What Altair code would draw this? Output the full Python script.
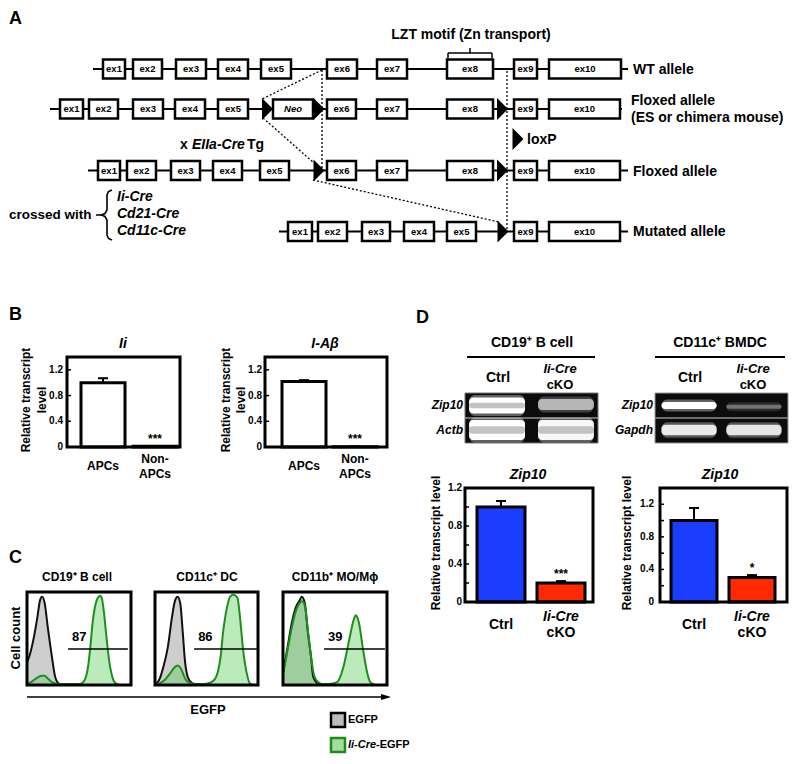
import altair as alt
import pandas as pd

FONT = "Liberation Sans"
W, H, M = 784, 748, 8


def P(v):
    return v - M


# pixel-like scales for the schematic parts (diagram units == reference pixels)
SX = alt.Scale(domain=[0, 800], range=[-M, 800 - M], nice=False, zero=False)
SY = alt.Scale(domain=[0, 764], range=[-M, 764 - M], nice=False, zero=False)


def PX(f):
    return alt.X(f, type="quantitative", scale=SX, axis=None)


def PY(f):
    return alt.Y(f, type="quantitative", scale=SY, axis=None)


# ---------------- Panel A : targeting schematic ----------------
row_name = ["WT", "FloxES", "Flox", "Mut"]
row_y = [69, 109, 170.5, 231.5]
row_line_x0 = [93, 50, 88, 279]
row_line_x1 = [628, 622, 628, 628]

ex_row = ["WT"] * 10 + ["FloxES"] * 10 + ["Flox"] * 10 + ["Mut"] * 7
ex_name = ["ex1", "ex2", "ex3", "ex4", "ex5", "ex6", "ex7", "ex8", "ex9", "ex10",
           "ex1", "ex2", "ex3", "ex4", "ex5", "ex6", "ex7", "ex8", "ex9", "ex10",
           "ex1", "ex2", "ex3", "ex4", "ex5", "ex6", "ex7", "ex8", "ex9", "ex10",
           "ex1", "ex2", "ex3", "ex4", "ex5", "ex9", "ex10"]
ex_x0 = [103, 133, 176, 218, 261, 327, 377, 447, 514, 549,
         60, 89, 133, 175, 218, 327, 377, 447, 514, 549,
         98, 127, 171, 213, 260, 327, 377, 447, 514, 549,
         288, 318, 362, 404, 447, 514, 549]
ex_x1 = [125, 162, 206, 248, 291, 357, 407, 493, 537, 621,
         83, 118, 163, 205, 248, 356, 407, 493, 537, 620,
         120, 156, 200, 242, 289, 356, 407, 493, 537, 620,
         312, 347, 390, 434, 476, 537, 620]
neo_x0, neo_x1 = [273], [313]
lox_row = ["FloxES", "FloxES", "FloxES", "Flox", "Flox", "Mut"]
lox_xc = [267.5, 319, 502.5, 319, 502.5, 503]

dot_x0 = [322, 322, 263, 313, 507]
dot_y0 = [70, 70, 118, 180, 71]
dot_x1 = [262, 322, 314, 499, 507]
dot_y1 = [99, 168, 163, 222, 230]

ydict = dict(zip(row_name, row_y))
bb = pd.DataFrame({"x0": row_line_x0, "x1": row_line_x1, "y": row_y})
ex = pd.DataFrame({"row": ex_row, "name": ex_name, "x0": ex_x0, "x1": ex_x1})
ex["y"] = ex["row"].map(ydict)
ex["y0"] = ex["y"] - 9.5
ex["y1"] = ex["y"] + 9.5
ex["xc"] = (ex["x0"] + ex["x1"]) / 2
neo = pd.DataFrame({"x0": neo_x0, "x1": neo_x1, "y0": [ydict["FloxES"] - 9.5],
                    "y1": [ydict["FloxES"] + 9.5], "xc": [293], "y": [ydict["FloxES"]], "t": ["Neo"]})
lox = pd.DataFrame({"x": lox_xc + [518], "y": [ydict[r] for r in lox_row] + [139]})
dots = pd.DataFrame({"x0": dot_x0, "y0": dot_y0, "x1": dot_x1, "y1": dot_y1})

# other solid strokes: bracket, brace dash, gel header rules, EGFP axis
solid = pd.DataFrame(
    [
        (448, 53, 492, 53, 1.5), (448, 53, 448, 58, 1.5), (492, 53, 492, 58, 1.5), (470, 48, 470, 53, 1.5),
        (96, 215, 102, 215, 1.5),
        (467, 357, 595, 357, 2), (655, 357, 785, 357, 2),
        (27, 697, 383, 697, 1.5),
    ],
    columns=["x0", "y0", "x1", "y1", "w"],
)
brace = pd.DataFrame({
    "i": list(range(11)),
    "x": [112, 108.5, 107, 107, 105, 101.5, 105, 107, 107, 108.5, 112],
    "y": [190, 191.5, 195, 210, 213.5, 215, 216.5, 220, 235, 238.5, 240],
})

TRI = "M-0.5,-1L0.5,0L-0.5,1Z"
ARROW = "M-1,-0.6L1,0L-1,0.6Z"


def text_layer(rows, size, weight="bold", style="normal", align="left", angle=0):
    df = pd.DataFrame(rows, columns=["t", "x", "y"])
    return alt.Chart(df).mark_text(
        font=FONT, fontSize=size, fontWeight=weight, fontStyle=style, align=align,
        baseline="middle", angle=angle, color="black"
    ).encode(x=PX("x"), y=PY("y"), text="t:N")


diag_layers = [
    alt.Chart(dots).mark_rule(strokeDash=[2, 2], strokeWidth=1.3, color="black").encode(
        x=PX("x0"), y=PY("y0"), x2="x1:Q", y2="y1:Q"),
    alt.Chart(bb).mark_rule(color="black", strokeWidth=2).encode(x=PX("x0"), x2="x1:Q", y=PY("y")),
    alt.Chart(solid).mark_rule(color="black").encode(
        x=PX("x0"), y=PY("y0"), x2="x1:Q", y2="y1:Q", strokeWidth=alt.StrokeWidth("w:Q", scale=None)),
    alt.Chart(brace).mark_line(color="black", strokeWidth=1.6).encode(
        x=PX("x"), y=PY("y"), order="i:Q"),
    alt.Chart(ex).mark_rect(fill="white", stroke="black", strokeWidth=2.5).encode(
        x=PX("x0"), x2="x1:Q", y=PY("y0"), y2="y1:Q"),
    alt.Chart(ex).mark_text(font=FONT, fontSize=9.5, fontWeight="bold", baseline="middle", color="black").encode(
        x=PX("xc"), y=PY("y"), text="name:N"),
    alt.Chart(neo).mark_rect(fill="white", stroke="black", strokeWidth=2.5).encode(
        x=PX("x0"), x2="x1:Q", y=PY("y0"), y2="y1:Q"),
    alt.Chart(neo).mark_text(font=FONT, fontSize=9.5, fontWeight="bold", fontStyle="italic",
                             baseline="middle", color="black").encode(x=PX("xc"), y=PY("y"), text="t:N"),
    alt.Chart(lox).mark_point(shape=TRI, size=484, filled=True, color="black", opacity=1, strokeWidth=0).encode(
        x=PX("x"), y=PY("y")),
    alt.Chart(pd.DataFrame({"x": [386], "y": [697]})).mark_point(
        shape=ARROW, size=100, filled=True, color="black", opacity=1, strokeWidth=0).encode(x=PX("x"), y=PY("y")),
    # legend swatches for panel C
    alt.Chart(pd.DataFrame({"x0": [331, 331], "x1": [345, 345], "y0": [713, 738], "y1": [727, 752],
                            "f": ["#bdbdbd", "#a6dca0"], "s": ["#000000", "#1e8c1e"]})).mark_rect(strokeWidth=2.5).encode(
        x=PX("x0"), x2="x1:Q", y=PY("y0"), y2="y1:Q",
        fill=alt.Fill("f:N", scale=None), stroke=alt.Stroke("s:N", scale=None)),
    text_layer([("A", 9, 19), ("B", 9, 315), ("C", 9, 558), ("D", 416, 318)], 18),
    text_layer([("LZT motif (Zn transport)", 471, 35)], 14, align="center"),
    text_layer([("WT allele", 633, 70), ("Floxed allele", 631, 101), ("(ES or chimera mouse)", 631, 118),
                ("loxP", 527, 140), ("Floxed allele", 633, 172), ("Mutated allele", 633, 232),
                ("x", 180, 145), ("Tg", 247, 145)], 14),
    text_layer([("crossed with", 9, 215)], 13.5),
    text_layer([("EIIa-Cre", 192, 145), ("Ii-Cre", 117, 197), ("Cd21-Cre", 117, 214),
                ("Cd11c-Cre", 117, 231)], 14, style="italic"),
    text_layer([("Ii", 123, 344), ("I-Aβ", 325, 344), ("Zip10", 528, 475), ("Zip10", 720, 475)],
               14, style="italic", align="center"),
    text_layer([("Ii-Cre", 560, 369), ("Ii-Cre", 753, 369)], 13, style="italic", align="center"),
    text_layer([("cKO", 560, 385), ("cKO", 753, 385)], 13, align="center"),
    text_layer([("CD19⁺  B cell", 532, 343), ("CD11c⁺  BMDC", 720, 343), ("Ctrl", 498, 378),
                ("Ctrl", 690, 378)], 14, align="center"),
    text_layer([("Zip10", 463, 405), ("Actb", 463, 430), ("Zip10", 653, 405), ("Gapdh", 653, 430)],
               12, style="italic", align="right"),
    text_layer([("CD19⁺ B cell", 77, 577), ("CD11c⁺ DC", 207, 577), ("CD11b⁺ MO/Mϕ", 335, 577)],
               12, align="center"),
    text_layer([("EGFP", 208, 710)], 13, align="center"),
    text_layer([("Cell count", 16, 638)], 13, align="center", angle=270),
    text_layer([("Relative transcript", 26, 400), ("level", 42, 400),
                ("Relative transcript", 226, 400), ("level", 241, 400),
                ("Relative transcript level", 436, 543), ("Relative transcript level", 627, 543)],
               12, align="center", angle=270),
    text_layer([("EGFP", 348, 720), ("-EGFP", 376, 745)], 11),
    text_layer([("Ii-Cre", 348, 745)], 11, style="italic"),
]
diagram = alt.layer(*diag_layers)

# ---------------- Panels B and D : bar charts ----------------
b1_cats = ["APCs", "Non-APCs"]
b1_vals = [1.0, 0.01]
b1_tops = [1.07, 0.015]
b2_vals = [1.02, 0.005]
b2_tops = [1.04, 0.01]
b_stars = ["", "***"]

d_cats = ["Ctrl", "Ii-Cre cKO"]
d1_vals = [1.0, 0.20]
d1_tops = [1.063, 0.22]
d2_vals = [1.0, 0.30]
d2_tops = [1.155, 0.33]
d1_stars = ["", "***"]
d2_stars = ["", "*"]
d_fills = ["#1a3cff", "#ff2a00"]


def tick_label(v):
    if v == 0:
        return "0"
    return f"{v:.1f}" if round(v * 10) % 4 == 0 else ""


def bar_panel(cats, vals, tops, stars, fills, one, top, bot, frame, ymax, centers, bw, ticks,
              lab_right, xlab_y, xlab_gap, xlab_size, top_italic):
    fx0, fx1, fy0, fy1 = frame
    step = centers[1] - centers[0]
    df = pd.DataFrame({"cat": cats, "val": vals, "hi": tops, "star": stars, "fill": fills,
                       "one": one, "top": top, "bot": bot})
    xs = alt.Scale(type="band", domain=cats, range=[P(centers[0] - step / 2), P(centers[1] + step / 2)],
                   paddingInner=0, paddingOuter=0)
    ys = alt.Scale(domain=[0, ymax], range=[P(fy1), P(fy0)], nice=False, zero=False)
    X = alt.X("cat:N", scale=xs, axis=None, sort=cats)
    base = alt.Chart(df)
    tk = pd.DataFrame({"v": ticks, "lab": [tick_label(v) for v in ticks]})
    bars = base.mark_bar(size=bw, stroke="black", strokeWidth=3).encode(
        x=X, y=alt.Y("val:Q", scale=ys, axis=None), fill=alt.Fill("fill:N", scale=None))
    err = base.mark_rule(strokeWidth=2, color="black").encode(
        x=X, y=alt.Y("val:Q", scale=ys, axis=None), y2="hi:Q")
    cap = base.mark_tick(size=10, thickness=2, color="black", orient="horizontal", opacity=1).encode(
        x=X, y=alt.Y("hi:Q", scale=ys, axis=None))
    star = base.mark_text(font=FONT, fontSize=12, fontWeight="bold", baseline="alphabetic",
                          dy=-3, color="black").encode(
        x=X, y=alt.Y("hi:Q", scale=ys, axis=None), text="star:N")
    ticks_l = alt.Chart(tk).mark_rule(color="black", strokeWidth=1.5).encode(
        x=alt.value(P(fx0)), x2=alt.value(P(fx0) + 4), y=alt.Y("v:Q", scale=ys, axis=None))
    tlabs = alt.Chart(tk).mark_text(font=FONT, fontSize=10, fontWeight="bold", align="right",
                                    baseline="middle", color="black").encode(
        x=alt.value(P(lab_right)), y=alt.Y("v:Q", scale=ys, axis=None), text="lab:N")
    frm = alt.Chart(pd.DataFrame({"k": [0]})).mark_rect(fillOpacity=0, stroke="black", strokeWidth=3).encode(
        x=alt.value(P(fx0)), x2=alt.value(P(fx1)), y=alt.value(P(fy0)), y2=alt.value(P(fy1)))
    kw = dict(font=FONT, fontSize=xlab_size, fontWeight="bold", baseline="middle", color="black")
    l1 = base.mark_text(**kw).encode(x=X, y=alt.value(P(xlab_y)), text="one:N")
    l2 = base.mark_text(fontStyle="italic" if top_italic else "normal", **kw).encode(
        x=X, y=alt.value(P(xlab_y - xlab_gap)), text="top:N")
    l3 = base.mark_text(**kw).encode(x=X, y=alt.value(P(xlab_y + xlab_gap)), text="bot:N")
    return alt.layer(bars, err, cap, star, ticks_l, tlabs, frm, l1, l2, l3)


B_TICKS = [0, 0.4, 0.8, 1.2]
D1_TICKS = [0, 0.2, 0.4, 0.6, 0.8, 1.0, 1.2]
D2_TICKS = [0, 0.2, 0.4, 0.6, 0.8, 1.0, 1.2, 1.4]

b1 = bar_panel(b1_cats, b1_vals, b1_tops, b_stars, ["white", "white"], ["APCs", ""], ["", "Non-"],
               ["", "APCs"], (67, 180, 357, 447), 1.4, (103, 155), 44, B_TICKS,
               63, 466, 7.5, 12, False)
b2 = bar_panel(b1_cats, b2_vals, b2_tops, b_stars, ["white", "white"], ["APCs", ""], ["", "Non-"],
               ["", "APCs"], (265, 387, 357, 447), 1.4, (304, 355), 44, B_TICKS,
               262, 466, 7.5, 12, False)
d1 = bar_panel(d_cats, d1_vals, d1_tops, d1_stars, d_fills, ["Ctrl", ""], ["", "Ii-Cre"], ["", "cKO"],
               (465, 593, 488, 602), 1.2, (501, 561), 48, D1_TICKS,
               462, 625, 8, 14, True)
d2 = bar_panel(d_cats, d2_vals, d2_tops, d2_stars, d_fills, ["Ctrl", ""], ["", "Ii-Cre"], ["", "cKO"],
               (660, 787, 488, 602), 1.4, (694, 752), 46, D2_TICKS,
               654, 625, 8, 14, True)

# ---------------- Panel D : RT-PCR gels ----------------
gel_id = ["g1", "g1", "g1", "g1", "g2", "g2", "g2", "g2"]
gel_lane = ["Ctrl", "cKO", "Ctrl", "cKO", "Ctrl", "cKO", "Ctrl", "cKO"]
gel_row_center = [0.5, 0.46, 1.48, 1.48, 0.5, 0.55, 1.48, 1.48]
gel_band_size = [0.64, 0.44, 0.8, 0.8, 0.28, 0.16, 0.42, 0.42]
gel_intensity = [1.0, 0.62, 1.0, 0.95, 1.0, 0.35, 0.88, 0.85]
gel_saturation_core = [0.22, 0.0, 0.3, 0.3, 0.0, 0.0, 0.0, 0.0]

gel = pd.DataFrame({"gel": gel_id, "lane": gel_lane, "c": gel_row_center,
                    "h": gel_band_size, "op": gel_intensity, "core": gel_saturation_core})
gel["lo"] = gel["c"] - gel["h"] / 2
gel["hi"] = gel["c"] + gel["h"] / 2
gel["hlo"] = gel["lo"] - 0.1
gel["hhi"] = gel["hi"] + 0.1
gel["hop"] = gel["op"] * 0.35
gel["clo"] = gel["c"] - gel["core"] / 2
gel["chi"] = gel["c"] + gel["core"] / 2


def gel_panel(gid, gx0, gx1, pin, pout, border):
    d = gel[gel["gel"] == gid]
    dc = d[d["core"] > 0]
    xs = alt.Scale(type="band", domain=["Ctrl", "cKO"], range=[P(gx0), P(gx1)],
                   paddingInner=pin, paddingOuter=pout)
    ys = alt.Scale(domain=[0, 2], range=[P(393), P(443)], nice=False, zero=False)
    X = alt.X("lane:N", scale=xs, axis=None, sort=["Ctrl", "cKO"])
    fd = pd.DataFrame({"lo": [0], "hi": [2], "mid": [1]})
    bg = alt.Chart(fd).mark_rect(color="#0c0c0c", stroke=border, strokeWidth=1).encode(
        x=alt.value(P(gx0)), x2=alt.value(P(gx1)), y=alt.Y("lo:Q", scale=ys, axis=None), y2="hi:Q")
    sep = alt.Chart(fd).mark_rule(color="#8c8c8c", strokeWidth=1.5).encode(
        x=alt.value(P(gx0)), x2=alt.value(P(gx1)), y=alt.Y("mid:Q", scale=ys, axis=None))
    halo = alt.Chart(d).mark_rect(color="white", cornerRadius=6).encode(
        x=X, y=alt.Y("hlo:Q", scale=ys, axis=None), y2="hhi:Q", opacity=alt.Opacity("hop:Q", scale=None))
    core = alt.Chart(d).mark_rect(color="white", cornerRadius=4).encode(
        x=X, y=alt.Y("lo:Q", scale=ys, axis=None), y2="hi:Q", opacity=alt.Opacity("op:Q", scale=None))
    layers = [bg, sep, halo, core]
    if len(dc):
        layers.append(alt.Chart(dc).mark_rect(color="#b4b4b4", cornerRadius=3, opacity=0.8).encode(
            x=X, y=alt.Y("clo:Q", scale=ys, axis=None), y2="chi:Q"))
    return alt.layer(*layers)


gel1 = gel_panel("g1", 465, 598, 0.19, 0.06, "#777777")
gel2 = gel_panel("g2", 655, 788, 0.15, 0.1, "#999999")

# ---------------- Panel C : flow histograms ----------------
p1_ctrl_x = [0, 1, 6, 10, 12.5, 14.5, 17, 20, 24, 27, 30, 33, 100]
p1_ctrl_y = [25, 27, 48, 73, 91, 95, 88, 62, 30, 9, 2, 0, 0]
p1_cre_x = [0, 5, 10, 14, 17, 20, 24, 30, 40, 50, 54, 57, 59, 61, 63, 65, 67, 69, 70.5, 72, 74, 76, 78,
            80, 82, 85, 90, 100]
p1_cre_y = [1, 4, 8, 10, 10, 7, 3, 1, 1, 1, 3, 10, 22, 42, 66, 82, 91, 95, 96, 93, 78, 56, 35,
            19, 9, 2, 0, 0]
p2_ctrl_x = [0, 2, 5, 8, 12.5, 16.5, 19.5, 22, 24.5, 27, 29, 32, 36, 40, 100]
p2_ctrl_y = [0, 2, 8, 19, 41, 73, 91, 95, 88, 56, 27, 8, 2, 0, 0]
p2_cre_x = [0, 5, 10, 15, 19, 22, 25, 28, 31, 35, 45, 52, 56, 59, 61, 64, 66, 68, 70, 73, 76, 80, 82.5,
            85.5, 89, 92, 96, 100]
p2_cre_y = [0, 2, 6, 13, 19, 21, 18, 10, 4, 2, 1, 2, 4, 8, 14, 33, 56, 72, 84, 95, 97, 94, 73,
            38, 13, 2, 0, 0]
p3_ctrl_x = [0, 4, 8.5, 12.5, 16, 18, 21, 24, 27, 29, 33, 38, 100]
p3_ctrl_y = [13, 38, 67, 84, 91, 95, 88, 56, 30, 9, 2, 0, 0]
p3_cre_x = [0, 4, 8.5, 12.5, 16, 18.5, 21, 24, 27, 30, 34, 38, 44, 52, 58, 63, 68, 70, 73, 77, 81, 84, 90, 100]
p3_cre_y = [12, 35, 62, 80, 88, 90, 85, 58, 30, 10, 3, 1, 1, 3, 19, 45, 70, 75, 67, 38, 13, 3, 0, 0]

gate_pct = ["87", "86", "39"]
gate_lo = [39.5, 38, 39.5]
gate_hi = [97, 99, 98]
gate_level = [38.7, 38.7, 38.7]

rows = []
for pid, ser, xv, yv in [
    ("P1", "EGFP", p1_ctrl_x, p1_ctrl_y), ("P1", "Ii-Cre-EGFP", p1_cre_x, p1_cre_y),
    ("P2", "EGFP", p2_ctrl_x, p2_ctrl_y), ("P2", "Ii-Cre-EGFP", p2_cre_x, p2_cre_y),
    ("P3", "EGFP", p3_ctrl_x, p3_ctrl_y), ("P3", "Ii-Cre-EGFP", p3_cre_x, p3_cre_y),
]:
    for a, b in zip(xv, yv):
        rows.append((pid, ser, a, b))
hist = pd.DataFrame(rows, columns=["panel", "series", "x", "y"])


def hist_panel(i, fx0, fx1):
    pid = ["P1", "P2", "P3"][i]
    xs = alt.Scale(domain=[0, 100], range=[P(fx0), P(fx1)], nice=False, zero=False)
    ys = alt.Scale(domain=[0, 100], range=[P(685), P(592)], nice=False, zero=False)
    d = hist[hist["panel"] == pid]
    g = d[d["series"] == "EGFP"]
    c = d[d["series"] == "Ii-Cre-EGFP"]

    def XY(ch):
        return ch.encode(x=alt.X("x:Q", scale=xs, axis=None), y=alt.Y("y:Q", scale=ys, axis=None))

    gate = pd.DataFrame({"lo": [gate_lo[i]], "hi": [gate_hi[i]], "lv": [gate_level[i]], "t": [gate_pct[i]]})
    fd = pd.DataFrame({"x0": [0], "x1": [100], "y0": [0], "y1": [100]})
    return alt.layer(
        XY(alt.Chart(g).mark_area(color="#cecece", opacity=1, interpolate="monotone")),
        XY(alt.Chart(c).mark_area(color="#5ccf5c", fillOpacity=0.42, opacity=1, interpolate="monotone")),
        XY(alt.Chart(g).mark_line(color="#111111", strokeWidth=2, interpolate="monotone")),
        XY(alt.Chart(c).mark_line(color="#1d8f1d", strokeWidth=2, interpolate="monotone")),
        alt.Chart(gate).mark_rule(color="black", strokeWidth=1.5).encode(
            x=alt.X("lo:Q", scale=xs, axis=None), x2="hi:Q", y=alt.Y("lv:Q", scale=ys, axis=None)),
        alt.Chart(gate).mark_text(font=FONT, fontSize=13, fontWeight="bold", align="left",
                                  baseline="middle", dx=4, dy=-12, color="black").encode(
            x=alt.X("lo:Q", scale=xs, axis=None), y=alt.Y("lv:Q", scale=ys, axis=None), text="t:N"),
        alt.Chart(fd).mark_rect(fillOpacity=0, stroke="black", strokeWidth=3).encode(
            x=alt.X("x0:Q", scale=xs, axis=None), x2="x1:Q", y=alt.Y("y0:Q", scale=ys, axis=None), y2="y1:Q"),
    )


c1 = hist_panel(0, 27, 131)
c2 = hist_panel(1, 155, 258)
c3 = hist_panel(2, 283, 387)

chart = (
    alt.layer(diagram, b1, b2, d1, d2, gel1, gel2, c1, c2, c3)
    .resolve_scale(x="independent", y="independent")
    .properties(width=W, height=H, padding=0, autosize=alt.AutoSizeParams(type="none"))
    .configure_view(stroke=None)
    .configure_text(font=FONT)
)

chart.save("out.html", embed_options={"renderer": "svg", "actions": False})
